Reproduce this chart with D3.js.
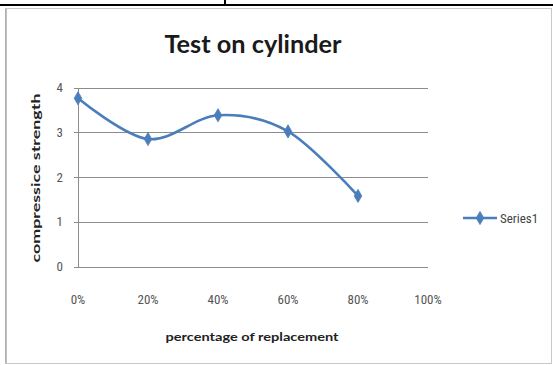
<!DOCTYPE html>
<html><head><meta charset="utf-8">
<script src="https://cdn.jsdelivr.net/npm/d3@7"></script>
<style>html,body{margin:0;padding:0;background:#fff;}svg{display:block;}</style>
</head><body>
<script>
const categories = ["0%", "20%", "40%", "60%", "80%", "100%"];
const seriesName = "Series1";
const values = [3.76, 2.85, 3.38, 3.02, 1.58];
const yTicks = [0, 1, 2, 3, 4];
const title = "Test on cylinder";
const xTitle = "percentage of replacement";
const yTitle = "compressice strength";

const W = 553, H = 365;
const svg = d3.select("body").append("svg").attr("width", W).attr("height", H);

// surrounding table border lines
svg.append("line").attr("x1", 0).attr("x2", W).attr("y1", 5).attr("y2", 5).attr("stroke", "#000").attr("stroke-width", 2);
svg.append("line").attr("x1", 225).attr("x2", 225).attr("y1", 0).attr("y2", 5).attr("stroke", "#000").attr("stroke-width", 2);
// chart frame
svg.append("rect").attr("x", 5.5).attr("y", 8.5).attr("width", 546).attr("height", 355)
  .attr("fill", "#fff").attr("stroke", "#c8c8c8").attr("stroke-width", 1);
svg.append("line").attr("x1", 6).attr("x2", 6).attr("y1", 9).attr("y2", 363).attr("stroke", "#aaa").attr("stroke-width", 1.5);

const x = d3.scalePoint().domain(categories).range([78, 428]);
const y = d3.scaleLinear().domain([0, 4]).range([266.7, 87.5]);

// gridlines
svg.append("g").selectAll("line").data(yTicks).join("line")
  .attr("x1", 74).attr("x2", 428)
  .attr("y1", d => Math.round(y(d)) + 0.5).attr("y2", d => Math.round(y(d)) + 0.5)
  .attr("stroke", "#8c8c8c").attr("stroke-width", 1);
// y axis line
svg.append("line").attr("x1", 78.5).attr("x2", 78.5).attr("y1", Math.round(y(4))).attr("y2", Math.round(y(0)) + 1)
  .attr("stroke", "#8c8c8c").attr("stroke-width", 1);

const tickFont = "Liberation Sans Narrow, Roboto Condensed, Lato, sans-serif";
// y tick labels
svg.append("g").selectAll("text").data(yTicks).join("text")
  .attr("x", 63).attr("y", d => y(d) + 4.5)
  .attr("text-anchor", "end")
  .attr("font-family", tickFont)
  .attr("font-size", 13).attr("fill", "#555")
  .text(d => d);

// x tick labels
svg.append("g").selectAll("text").data(categories).join("text")
  .attr("x", d => x(d)).attr("y", 304)
  .attr("text-anchor", "middle")
  .attr("font-family", tickFont)
  .attr("font-size", 13).attr("fill", "#555")
  .text(d => d);

const color = "#4a7ebb";
const pts = values.map((v, i) => [x(categories[i]), y(v)]);
const line = d3.line().curve(d3.curveCardinal.tension(0));
svg.append("path").attr("d", line(pts)).attr("fill", "none").attr("stroke", color).attr("stroke-width", 2.6);

const diamond = d3.symbol().type(d3.symbolDiamond).size(50);
svg.append("g").selectAll("path").data(pts).join("path")
  .attr("d", diamond).attr("transform", d => `translate(${d[0]},${d[1]})`)
  .attr("fill", color).attr("stroke", color).attr("stroke-width", 0.8);

// title
svg.append("text").attr("x", 253).attr("y", 53).attr("text-anchor", "middle")
  .attr("font-family", "Lato, Open Sans, sans-serif").attr("font-weight", "bold")
  .attr("font-size", 25).attr("fill", "#1a1a1a")
  .attr("textLength", 177).attr("lengthAdjust", "spacingAndGlyphs")
  .text(title);

// axis titles
svg.append("text").attr("x", 252).attr("y", 341).attr("text-anchor", "middle")
  .attr("font-family", "Lato, Open Sans, sans-serif").attr("font-weight", "bold")
  .attr("font-size", 12).attr("fill", "#222")
  .attr("textLength", 173).attr("lengthAdjust", "spacingAndGlyphs")
  .text(xTitle);
svg.append("text").attr("transform", "translate(40,178) rotate(-90)").attr("text-anchor", "middle")
  .attr("font-family", "Lato, Open Sans, sans-serif").attr("font-weight", "bold")
  .attr("font-size", 12).attr("fill", "#222")
  .attr("textLength", 169).attr("lengthAdjust", "spacingAndGlyphs")
  .text(yTitle);

// legend
const lg = svg.append("g");
lg.append("line").attr("x1", 463).attr("x2", 497).attr("y1", 218).attr("y2", 218).attr("stroke", color).attr("stroke-width", 2.6);
lg.append("path").attr("d", diamond).attr("transform", "translate(480,218)").attr("fill", color).attr("stroke", color).attr("stroke-width", 0.8);
lg.append("text").attr("x", 500).attr("y", 222.5)
  .attr("font-family", tickFont)
  .attr("font-size", 13).attr("fill", "#444").text(seriesName);
</script>
</body></html>
